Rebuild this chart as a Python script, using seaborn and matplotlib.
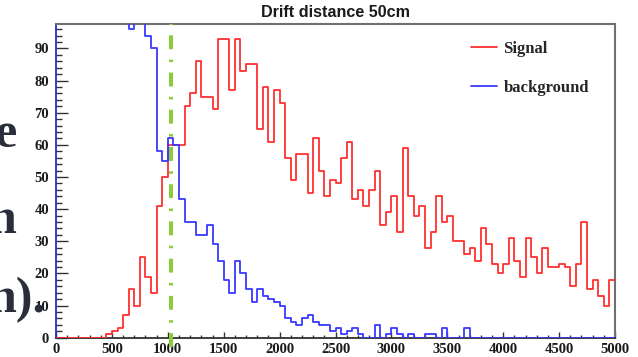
import numpy as np
import pandas as pd
import matplotlib
matplotlib.use("Agg")
import matplotlib.pyplot as plt
import seaborn as sns
from matplotlib.ticker import MultipleLocator

sns.set_theme(style="white")
plt.rcParams["font.family"] = ["Liberation Serif", "DejaVu Serif"]
plt.rcParams["font.weight"] = "bold"
plt.rcParams["lines.scale_dashes"] = False

# 100 bins of 50 (drift time), 0..5000
bin_width = 50
x_range = (0, 5000)
bin_centers = np.arange(x_range[0], x_range[1], bin_width) + bin_width / 2

signal_counts = [
    0, 0, 0, 0, 0, 0, 0, 0, 0,
    1, 2, 3, 7, 15, 10, 25, 19, 14, 41, 50,
    60, 60, 60, 72, 76, 86, 75, 75, 71, 93,
    93, 77, 93, 83, 85, 85, 65, 78, 61, 77,
    73, 56, 49, 57, 57, 45, 62, 52, 44, 49,
    48, 56, 61, 43, 46, 41, 46, 52, 35, 39,
    44, 33, 59, 44, 38, 41, 28, 33, 44, 36,
    38, 30, 30, 26, 28, 24, 34, 29, 23, 20,
    23, 31, 24, 19, 31, 25, 20, 28, 22, 22,
    23, 22, 16, 23, 36, 15, 18, 13, 10, 18,
]

# first bins run off the top of the frame
background_counts = [
    240, 230, 215, 200, 190, 175, 160, 150, 140, 130, 120, 110, 105,
    96, 105, 100, 94, 90, 58, 55,
    62, 60, 43, 36, 36, 32, 32, 35, 29, 24,
    18, 14, 24, 20, 15, 11, 15, 13, 12, 11,
    10, 6, 5, 4, 6, 7, 5, 4, 4, 2,
    3, 1, 2, 3, 1, 0, 0, 4, 0, 1,
    3, 1, 0, 1, 0, 0, 1, 1, 0, 3,
    0, 0, 0, 3, 0, 0, 0, 0, 0, 0,
    0, 0, 0, 0, 0, 0, 0, 0, 0, 0,
    0, 0, 0, 0, 0, 0, 0, 0, 0, 0,
]

cut_position = 1030

sig_df = pd.DataFrame({"time": bin_centers, "count": signal_counts})
bkg_df = pd.DataFrame({"time": bin_centers, "count": background_counts})

fig = plt.figure(figsize=(6.38, 3.57), dpi=100)
ax = fig.add_axes([0.0878, 0.0541, 0.8762, 0.8787])

sns.histplot(data=sig_df, x="time", weights="count", binwidth=bin_width, binrange=x_range,
             element="step", fill=False, color="#ff3030", linewidth=1.3, label="Signal",
             ax=ax, zorder=3)
sns.histplot(data=bkg_df, x="time", weights="count", binwidth=bin_width, binrange=x_range,
             element="step", fill=False, color="#3838ff", linewidth=1.3, label="background",
             ax=ax, zorder=3)

ax.axvline(cut_position, ymin=-0.03, ymax=1, color="#8ccc3c", linewidth=2.9,
           linestyle=(0, (10, 7.5, 1.8, 7.5)), clip_on=False, zorder=4)

ax.set_xlim(*x_range)
ax.set_ylim(0, 97.6)
ax.set_xlabel("")
ax.set_ylabel("")
ax.xaxis.set_major_locator(MultipleLocator(500))
ax.xaxis.set_minor_locator(MultipleLocator(100))
ax.yaxis.set_major_locator(MultipleLocator(10))
ax.yaxis.set_minor_locator(MultipleLocator(2))
ax.tick_params(axis="x", which="major", direction="in", length=4.5, width=1, color="#333333",
               pad=4, labelsize=10.5, bottom=True)
ax.tick_params(axis="x", which="minor", direction="in", length=2.5, width=1, color="#333333", bottom=True)
ax.tick_params(axis="y", which="major", direction="in", length=8.5, width=1, color="#333333",
               pad=5, labelsize=10.5, left=True)
ax.tick_params(axis="y", which="minor", direction="in", length=4.5, width=1, color="#333333", left=True)
for lab in ax.get_xticklabels() + ax.get_yticklabels():
    lab.set_fontweight("bold")
    lab.set_color("#1a1a1a")

for side in ["top", "right"]:
    ax.spines[side].set_color("#707070")
    ax.spines[side].set_linewidth(1.5)
ax.spines["bottom"].set_color("#303030")
ax.spines["bottom"].set_linewidth(1.3)
ax.spines["left"].set_color("#2a2ad0")
ax.spines["left"].set_linewidth(1.3)

ax.set_title("Drift distance 50cm", family=["Liberation Sans", "DejaVu Sans"], fontweight="bold",
             fontsize=11.6, pad=5, color="#1a1a1a")

ax.legend(loc="upper left", bbox_to_anchor=(471 / 638, 1 - 41 / 357), bbox_transform=fig.transFigure,
          frameon=False, prop={"family": "Liberation Serif", "weight": "bold", "size": 12},
          handlelength=1.55, handletextpad=0.4, labelspacing=1.38, borderpad=0, borderaxespad=0)

# fragments of slide text cut off at the left edge
for txt, xr, yb in [("e", 16, 147), ("n", 17, 233), ("n).", 46, 312)]:
    fig.text(xr / 638, 1 - yb / 357, txt, ha="right", va="baseline", fontsize=36,
             family=["Liberation Serif", "DejaVu Serif"], fontweight="bold", color="#2a2d3a")

fig.savefig("out.png", dpi=100)
